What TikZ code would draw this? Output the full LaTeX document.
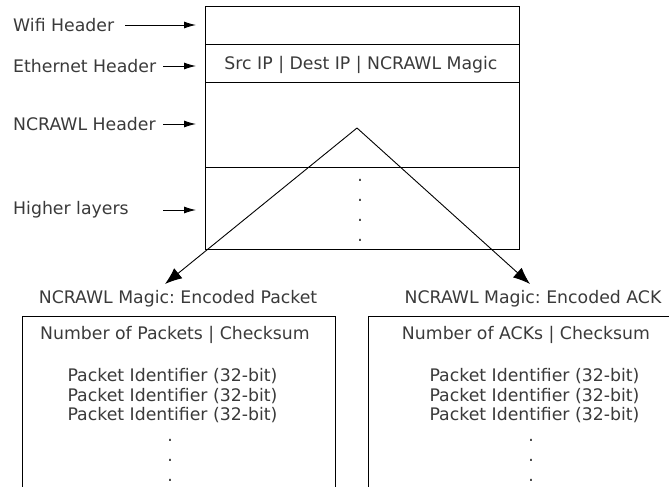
\documentclass[tikz,border=0pt]{standalone}
\usepackage{fontspec}
\setmainfont{DejaVu Sans}
\usetikzlibrary{arrows.meta}
\definecolor{txt}{HTML}{3A3A3A}
\frenchspacing
\begin{document}
\begin{tikzpicture}[x=1pt,y=-1pt,
  lbl/.style={text=txt,inner sep=0pt,font=\fontsize{17.3}{19.5}\selectfont},
  dotc/.style={text=txt,inner sep=0pt,anchor=base,font=\fontsize{17.3}{19.5}\selectfont},
  box/.style={draw=black,line width=0.9pt},
  harrow/.style={draw=black,line width=0.9pt,-{Latex[length=12pt,width=7pt]}},
  sarrow/.style={draw=black,line width=0.9pt,-{Latex[length=17pt,width=13pt]}}]
\useasboundingbox (0,0) rectangle (669,487);
% top packet box
\draw[box] (205,6) rectangle (519,249);
\draw[box] (205,44) -- (519,44);
\draw[box] (205,82) -- (519,82);
\draw[box] (205,167) -- (519,167);
\node[lbl] (eth) at (361,65) {Src IP | Dest IP | NCRAWL Magic};
\foreach \yy/\nm in {180/d1,200/d2,220/d3,240/d4}{
  \node[dotc] (\nm) at (360,\yy+1.3) {.};
}
% left labels
\node[lbl,anchor=west] (lwifi) at (13,25) {Wifi Header};
\node[lbl,anchor=west] (leth) at (13,66) {Ethernet Header};
\node[lbl,anchor=west] (lnc) at (13,124) {NCRAWL Header};
\node[lbl,anchor=west] (lhi) at (13,210) {Higher layers};
\coordinate (s1) at (125,25); \coordinate (e1) at (196,25);
\coordinate (s2) at (163,66); \coordinate (e2) at (196,66);
\coordinate (s3) at (163,124); \coordinate (e3) at (196,124);
\coordinate (s4) at (163,210); \coordinate (e4) at (196,210);
\draw[harrow] (s1) -- (e1);
\draw[harrow] (s2) -- (e2);
\draw[harrow] (s3) -- (e3);
\draw[harrow] (s4) -- (e4);
% apex and slanted arrows
\coordinate (apex) at (357,128);
\coordinate (tl) at (165,284);
\coordinate (tr) at (530,284);
\draw[sarrow] (apex) -- (tl);
\draw[sarrow] (apex) -- (tr);
% bottom titles
\node[lbl] (tpk) at (178,299) {NCRAWL Magic: Encoded Packet};
\node[lbl] (tack) at (533,299) {NCRAWL Magic: Encoded ACK};
% bottom boxes (open at the bottom / right edge)
\draw[box] (22,487) -- (22,316) -- (335,316) -- (335,487);
\draw[box] (368,487) -- (368,316) -- (669,316);
% left box contents
\node[lbl] (npk) at (175,335) {Number of Packets | Checksum};
\node[lbl,align=center] (pidl) at (172.5,396) {Packet Identifier (32-bit)\\Packet Identifier (32-bit)\\Packet Identifier (32-bit)};
\node[dotc] (ld1) at (170,441.3) {.};
\node[dotc] (ld2) at (170,461.3) {.};
\node[dotc] (ld3) at (170,481.3) {.};
% right box contents
\node[lbl] (nack) at (526,335) {Number of ACKs | Checksum};
\node[lbl,align=center] (pidr) at (534.5,396) {Packet Identifier (32-bit)\\Packet Identifier (32-bit)\\Packet Identifier (32-bit)};
\node[dotc] (rd1) at (531,441.3) {.};
\node[dotc] (rd2) at (531,461.3) {.};
\node[dotc] (rd3) at (531,481.3) {.};
\end{tikzpicture}
\end{document}
